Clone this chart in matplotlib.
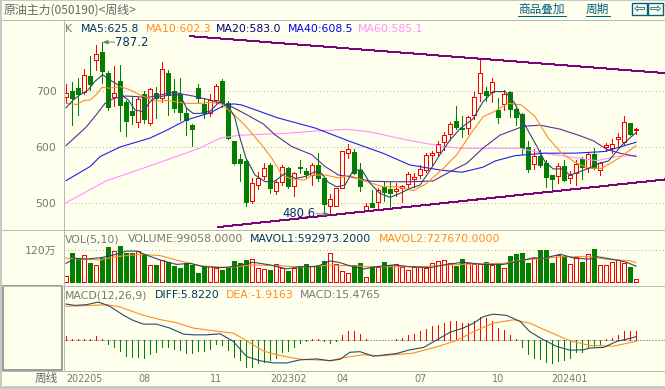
#!/usr/bin/env python3
import matplotlib
matplotlib.use("Agg")
import matplotlib.pyplot as plt
from matplotlib.lines import Line2D
from matplotlib.patches import Rectangle

W, H = 665, 389
BG = "#ffffee"
RED = "#ff0000"
GREEN = "#007f00"
NAVY = "#003366"
ORANGE = "#ff8c1e"
GRAY = "#777777"
LINK = "#006080"
PURPLE = "#800080"

# weekly candles
opens = [689, 700, 705, 699, 726, 755, 769, 732, 689, 717, 681, 664, 645, 694, 643.5, 696, 688, 732, 700, 694,
         661, 639, 706, 677, 661, 684, 718, 678, 610, 579, 575, 504, 533, 548, 568, 522, 538, 563, 531, 565,
         557, 550, 568, 544, 495, 495, 527.5, 590, 591, 559, 486, 499.5, 501, 528, 524.5, 521.5, 527, 533.4, 542, 550,
         559, 586, 591, 608.4, 623, 646.5, 634, 634.6, 657, 696, 700, 699, 666, 676, 699, 668, 659, 600, 569, 584,
         571, 550, 549, 566, 544, 553, 579, 562, 587, 559, 600.6, 597.6, 613.7, 609.5, 642, 631]
closes = [696, 687, 695, 729, 712, 765.5, 736, 672, 696, 675, 646.5, 657, 686, 650, 703, 688, 739, 693, 670, 662,
          648, 632, 687, 661, 684, 709, 679, 616.7, 571, 571, 502.5, 535, 544, 562, 527.5, 537, 565, 531, 553, 563,
          551, 568, 545, 498, 508, 526, 592, 596, 553, 531, 494, 493.6, 523, 520, 517, 524.5, 530, 551, 546, 560,
          586, 589, 606, 621, 640.5, 636, 631.6, 653, 689, 733, 693, 715.5, 654, 694, 668, 654, 598, 561, 584, 568,
          547, 543, 565.5, 541, 550, 569, 564, 587, 562, 571, 603, 605, 617, 644, 624, 632]
highs = [712, 715.5, 723, 740, 762, 782, 787.2, 735, 745, 746, 684, 689, 690, 700, 706, 707, 751, 737, 722, 724,
         672, 641, 712, 688, 695, 713, 722, 682, 611, 587, 577, 544, 555, 571, 571, 541, 568, 565, 556, 576,
         563, 571, 589, 546, 516, 527, 593, 605.5, 596, 571, 500, 524, 526, 538, 537, 535, 533, 556, 553, 568,
         590, 592, 611, 626, 645, 673, 655, 655, 698, 755.4, 706.6, 723, 687, 702, 700, 669, 660, 611, 596, 595,
         577, 550, 571, 577, 558, 577, 583, 589, 599, 574, 607, 614, 624.4, 655, 642, 634.5]
lows = [681, 639, 657, 695, 702, 738, 715, 666, 674, 629, 620, 641, 635, 642, 639, 651, 681, 658, 662, 648,
        621, 601, 678, 652, 655, 679, 672, 615, 570, 539, 495, 500, 525, 543, 518, 516, 533, 527, 513, 553,
        545, 533, 540, 483, 480.6, 495, 527, 580, 552, 522, 485, 493, 489, 504, 491, 513, 501, 528, 529, 545,
        556, 568, 584, 595, 612.5, 633, 617, 623, 650, 683, 683, 681, 642, 665.5, 654, 639, 587, 555, 561, 564,
        529, 519, 536, 540, 535, 532, 542, 556, 561, 550, 593, 590, 600, 605, 621, 624]

# moving averages in the price panel (bar number, value)
ma5_x = [0, 1.2, 2.3, 3.7, 4.8, 6.1, 7.3, 8.7, 9.6, 10.4, 11.5, 12.9, 14, 14.8, 15.7, 17.3, 19, 20.1, 21.2, 22.3,
         24, 25.7, 27.1, 28.1, 29, 30, 31.5, 33.2, 34.8, 36.5, 38.2, 39.8, 41.5, 42.6, 43.7, 45.1, 46.5, 47.9, 49.3,
         50.7, 52.3, 54, 55.7, 57.3, 59, 60.7, 62.3, 64, 65.7, 67.9, 69.5, 71.2, 73.2, 74.8, 76.5, 78.2, 79.8, 81.2,
         82.6, 84, 85.4, 87.1, 88.8, 90.4, 92.7, 95]
ma5_y = [670, 684, 693, 702, 717, 729, 720, 711, 690, 684, 666, 663, 681, 687, 690, 693, 693, 669, 660, 660,
         664, 682, 672, 654, 616, 580, 550, 538, 539, 553, 544, 547, 556, 553, 537, 529, 532, 559, 559,
         535, 517.4, 510, 517.4, 526, 532, 559, 586, 612.6, 633, 651, 681, 699, 699, 678, 639, 606.6, 574, 560.8,
         561, 550, 555, 562, 571, 575, 604, 625.8]
ma10_x = [0, 1.8, 3, 4, 5, 6, 7.3, 9, 10.7, 12.3, 14, 15, 16.8, 18.4, 20, 22.3, 24, 25.9, 28.1, 29.8, 32.6, 34.3,
          36, 37.6, 39.8, 41, 43.2, 45.4, 47.3, 50.1, 52.9, 55.1, 57.9, 60.1, 62.9, 65.1, 67.3, 69.5, 71.5, 73.7,
          75.9, 78.2, 80.4, 82.6, 84.8, 87.1, 89.3, 92, 95]
ma10_y = [678, 676, 683, 684, 693, 706.6, 705, 708, 702, 693, 686, 682, 683, 681, 678, 678, 680, 677, 657, 639, 604, 580,
          550, 543, 541, 550, 550, 545, 549, 538, 529, 529, 522, 535, 562, 586, 621, 654, 664, 678,
          675, 654, 615.5, 589, 573, 562, 562, 579, 602.3]
ma20_x = [0, 3.4, 5, 6.5, 8, 10, 11.8, 13.4, 15.7, 17.9, 19.6, 21.2, 24, 25.9, 27.6, 30.4, 32.9, 34.8, 37.6, 41,
          43.2, 45.4, 47.3, 50.7, 54, 57.3, 61.2, 64, 66.8, 69.5, 72.3, 76.2, 79, 82.3, 85.7, 87.9, 90.1, 92.3, 95]
ma20_y = [602.5, 636, 657, 678, 687, 691, 690, 688, 693, 698, 694, 691, 684, 678, 672, 656, 641, 622, 601, 586,
          565, 550, 547, 539, 538, 538, 539.4, 556, 571, 598, 621, 637, 639, 632, 620, 611, 596, 589, 583]
ma40_x = [0, 4, 5.7, 9, 14, 16.8, 20, 24, 26.5, 28, 29.3, 35.3, 41.5, 47.3, 52.8, 57.3, 62.3, 66, 69.5, 71.5,
          74.8, 79.8, 84.8, 89.8, 95]
ma40_y = [540, 565, 583, 600, 616, 630, 648, 661, 675, 677, 675, 652, 634, 610, 589, 568, 559, 555, 564, 575,
          584.5, 589, 589, 592, 608.5]
ma60_x = [0, 6.8, 12.3, 16.8, 22.3, 25.7, 29, 36.8, 42.3, 46.8, 50.7, 56.8, 62.3, 65.7, 70.7, 75.7, 79, 83.5, 88.5, 91.8, 95]
ma60_y = [500.5, 540, 560, 577, 598, 616, 621, 624.5, 629, 631.6, 627, 612.5, 602, 597.6, 597.6, 597.6, 590, 583, 575.6, 583, 585.1]

# two channel lines
upper_x = [20.67, 99.83]
upper_y = [798, 732]
lower_x = [25.3, 99.83]
lower_y = [457, 542]

# volume in units of 10000
volume = [22.5, 107.5, 89, 100, 71, 62.5, 90, 131, 115, 135, 110, 110, 115, 100, 62.5, 64, 82.5, 76, 60, 52.5,
          71, 64, 34, 60, 60, 51, 45, 55, 79, 70, 82.5, 85, 51, 49, 45, 66, 51, 41, 51, 60,
          67.5, 60, 62.5, 79, 107.5, 66, 41, 32.5, 64, 70, 17.5, 61, 57.5, 74, 64, 66, 57.5, 45, 56, 55,
          51, 70, 79, 82.5, 70, 61, 86, 70, 69, 69, 74, 64, 66, 51, 97.5, 105, 109, 72.5, 89, 120,
          120, 72.5, 101, 99, 66, 95, 76, 104, 124, 64, 64, 76, 82.5, 70, 57.5, 9.9]
mavol1_x = [0, 1.5, 3.4, 5.7, 7.9, 10.1, 11.8, 13.4, 15.7, 18.4, 20.7, 22.9, 25.7, 27.9, 31.2, 34, 36.8, 39, 41.8, 44,
            45.4, 47.3, 49.6, 51.8, 54.6, 57.3, 60.7, 63.5, 66.2, 69.6, 72.9, 75.7, 77.9, 79.6, 82.4, 84.7, 87.4, 88.5,
            91.8, 93.4, 95]
mavol1_y = [70, 89, 86, 91, 101, 116, 116, 101, 82.5, 66, 70, 57.5, 54, 57.5, 74, 64, 49, 57.5, 57.5, 79,
            74, 61, 49, 57.5, 64, 57.5, 54, 66, 74, 66, 66, 79, 91, 89, 104, 89, 86, 95,
            82.5, 74, 59.3]
mavol2_x = [0, 2.3, 5.7, 8.4, 12.3, 15.7, 18.4, 22.3, 26.7, 31.2, 35.7, 39, 44, 47.3, 50.7, 55.1, 59.6, 63.5, 67.9,
            72.9, 76.2, 79.6, 82.9, 87.4, 90.1, 93.9, 95]
mavol2_y = [89, 86, 82.5, 95, 104, 99, 82.5, 61, 54, 64, 61, 56, 63, 61, 57.5, 57.5, 57.5, 64, 67.5,
            70, 82.5, 89, 95, 95, 85, 80, 72.8]

# macd panel
diff_x = [0, 1.5, 3.4, 5.4, 7.3, 9.6, 11.2, 12.9, 15.1, 17.3, 19.6, 21.2, 23.4, 25.7, 27.9, 30.1, 32.3, 34.6, 36.8, 39,
          41.8, 44, 45.7, 47.3, 49, 51.2, 55.1, 57.3, 59.6, 61.8, 64, 66.2, 67.9, 69.6, 71.2, 73.4, 75.7, 77.3, 79.6,
          81.8, 84, 86.2, 87.3, 89.6, 91.8, 94, 95]
diff_y = [59.7, 57.5, 58.6, 63, 56, 41, 32.6, 26.5, 26.5, 20, 10, 8.8, 8.8, 10.5, -2.2, -27, -34, -37.6, -37.6, -32.6,
          -31, -34, -31.5, -20, -19, -26.5, -22, -16, -12, 0.5, 13, 20, 28, 39, 43, 41, 31, 14, 0.5,
          -10.5, -16.6, -16, -13, -12, -2, 3, 5.82]
dea_x = [0, 3.4, 6.8, 9, 12.9, 15.7, 18.4, 21.2, 24.6, 27.9, 30.1, 32.9, 35.7, 39, 44, 46.8, 49.6, 52.3, 57.8, 61.8,
         65.1, 67.9, 71.2, 74.6, 77.3, 80.7, 84, 87.3, 91.2, 95]
dea_y = [56, 57, 58.6, 55, 41, 34, 29, 20, 15.5, 11.6, -1, -18, -25.4, -31.5, -33.7, -28, -24, -26, -21.6, -11,
         -0.5, 14, 28, 33.7, 28, 13, -1, -8.8, -10, -1.92]
macd = [6.6, 2.2, 1.7, 2.2, 1.7, 7, 1.7, -6, -11.6, -17.7, -26, -27, -28, -29, -22.7, -20, -11, -12, -14.4, -16,
        -21.6, -21.6, -17.7, -17.7, -14.4, -6.6, -7.7, -16, -27, -32.6, -43.7, -43.7, -38, -36.5, -32.6, -29, -20, -17.7, -11, -4.4,
        -1.7, 1.7, 1.7, -1.7, -3.9, -1.7, 8.8, 15.5, 14.4, 10.5, 1.7, -0.5, 0.5, -0.5, -0.5, 1.7, 2.8, 8.8, 10, 14.4,
        18.8, 22.7, 25.4, 28.8, 32, 32, 28.8, 27.6, 32, 38.7, 36.5, 32, 20, 16.6, 8.8, 1.7, -10.5, -23, -29, -31,
        -36.5, -38, -33.7, -32.6, -30, -19, -19, -10.5, -9, -6, 1.7, 4.4, 8.8, 15.5, 15.5, 15.48]

date_ticks = [0, 13, 25, 37, 46, 59, 72, 84]
date_labels = ["202205", "08", "11", "202302", "04", "07", "10", "202401"]
price_ticks = [700, 600, 500]
vol_ticks = [120]
macd_ticks = [0]

SANS = ["DejaVu Sans", "Noto Sans CJK SC"]
CJK = ["Noto Sans CJK SC", "DejaVu Sans"]
FS = 7.8
THIN = 0.72

fig = plt.figure(figsize=(W / 100, H / 100), dpi=100, facecolor=BG)


def panel(top, bottom, ylim):
    ax = fig.add_axes([63.5 / W, 1 - bottom / H, (W - 63.5) / W, (bottom - top) / H])
    ax.set_facecolor("none")
    ax.set_xlim(-0.4167, 99.83)
    ax.set_ylim(*ylim)
    for s in ax.spines.values():
        s.set_visible(False)
    ax.set_xticks([])
    ax.tick_params(axis="y", length=0, pad=5, labelcolor=GRAY)
    return ax


def pxline(x0, y0, x1, y1, color, lw=THIN):
    fig.add_artist(Line2D([x0 / W, x1 / W], [1 - y0 / H, 1 - y1 / H], color=color, lw=lw,
                          transform=fig.transFigure, antialiased=False))


def pxtext(x, y, s, color, **kw):
    kw.setdefault("family", SANS)
    kw.setdefault("fontsize", FS)
    fig.text(x / W, 1 - y / H, s, color=color, va="center", **kw)


# frame
fig.add_artist(Rectangle((0, 0), 2 / W, 1, transform=fig.transFigure, fc="#c8c8c8", ec="none"))
fig.add_artist(Rectangle((0, 0), 1, 3 / H, transform=fig.transFigure, fc="#c8c8c8", ec="none"))
fig.add_artist(Rectangle((0, 1 - 1 / H), 1, 1 / H, transform=fig.transFigure, fc="#c8c8c8", ec="none"))
for yy in (19.5, 229.5, 285.5, 370.5):
    pxline(2, yy, W, yy, "#b8b8b8")
pxline(63.5, 19.5, 63.5, 370.5, "#b8b8b8")
fig.add_artist(Rectangle((3 / W, 1 - 369.5 / H), 59 / W, 83.5 / H, transform=fig.transFigure,
                         fc=BG, ec="#808080", lw=1.1))

# price panel
ax = panel(19.5, 229.5, (452.7, 827.7))
ax.set_yticks(price_ticks, [str(v) for v in price_ticks], family=SANS, fontsize=FS)
for v in price_ticks:
    ax.axhline(v, color="#b0b0a0", lw=THIN, ls=(0, (1, 2.5)), zorder=1)
for i in range(len(opens)):
    up = closes[i] >= opens[i]
    c = RED if up else GREEN
    ax.vlines(i, lows[i], highs[i], color=c, lw=THIN, antialiased=False, zorder=2)
    ax.add_patch(Rectangle((i - 0.33, min(opens[i], closes[i])), 0.67, max(abs(closes[i] - opens[i]), 0.8),
                           fc=BG if up else GREEN, ec=c, lw=THIN, antialiased=False, zorder=3))
ax.plot(ma60_x, ma60_y, color="#ff90ff", lw=0.8, zorder=4)
ax.plot(ma40_x, ma40_y, color="#2020f0", lw=0.8, zorder=4)
ax.plot(ma20_x, ma20_y, color="#5a3090", lw=0.8, zorder=4)
ax.plot(ma10_x, ma10_y, color=ORANGE, lw=0.8, zorder=4)
ax.plot(ma5_x, ma5_y, color="#2a4a68", lw=0.8, zorder=4)
ax.plot(upper_x, upper_y, color=PURPLE, lw=THIN, antialiased=False, zorder=4)
ax.plot(lower_x, lower_y, color=PURPLE, lw=THIN, antialiased=False, zorder=4)
ax.annotate("", xy=(6.1, 787.2), xytext=(8.1, 787.2), zorder=5,
            arrowprops=dict(arrowstyle="-|>,head_width=0.12,head_length=0.3", color=GRAY, lw=0.7, shrinkA=0, shrinkB=0))
ax.text(8.2, 787.2, "787.2", color=NAVY, family=SANS, fontsize=8.4, va="center", zorder=5)
ax.annotate("", xy=(43.9, 480.6), xytext=(41.7, 480.6), zorder=5,
            arrowprops=dict(arrowstyle="-|>,head_width=0.12,head_length=0.3", color=GRAY, lw=0.7, shrinkA=0, shrinkB=0))
ax.text(41.6, 480.6, "480.6", color=NAVY, family=SANS, fontsize=8.4, va="center", ha="right", zorder=5)

# volume panel
ax2 = panel(229.5, 285.5, (-13.1, 196.9))
ax2.set_yticks(vol_ticks, ["120万"], family=SANS, fontsize=FS)
ax2.axhline(vol_ticks[0], color="#b0b0a0", lw=THIN, ls=(0, (1, 2.5)), zorder=1)
for i, v in enumerate(volume):
    up = closes[i] >= opens[i]
    ax2.bar(i, v, width=0.67, fc=BG if up else GREEN, ec=RED if up else GREEN, lw=THIN, antialiased=False, zorder=2)
ax2.plot(mavol2_x, mavol2_y, color=ORANGE, lw=0.8, zorder=3)
ax2.plot(mavol1_x, mavol1_y, color="#2a4a68", lw=0.8, zorder=3)

# macd panel
ax3 = panel(286, 370, (-49.3, 89.5))
ax3.set_yticks(macd_ticks, ["0"], family=SANS, fontsize=FS)
ax3.axhline(0, color="#505050", lw=THIN, ls=(0, (1, 2)), zorder=1)
for i, v in enumerate(macd):
    ax3.vlines(i, 0, v, color=RED if v > 0 else GREEN, lw=THIN, antialiased=False, zorder=2)
ax3.plot(dea_x, dea_y, color=ORANGE, lw=0.8, zorder=3)
ax3.plot(diff_x, diff_y, color="#2a4a68", lw=0.8, zorder=3)
ax3.set_xticks(date_ticks, date_labels, family=SANS, fontsize=6.9, color=GRAY)
ax3.tick_params(axis="x", length=0, pad=3)
ax3.get_xticklabels()[0].set_ha("left")

# text rows
pxtext(4, 10, "原油主力(050190)<周线>", "#666666", family=CJK, fontsize=8.6)
pxtext(35, 378, "周线", "#666666", family=CJK, fontsize=8.4)
pxtext(518, 9.5, "商品叠加", LINK, family=CJK, fontsize=8.4)
pxtext(586, 9.5, "周期", LINK, family=CJK, fontsize=8.4)
pxline(518, 15.5, 566, 15.5, LINK)
pxline(586, 15.5, 610, 15.5, LINK)
for bx, sym in ((632, "⇦"), (648, "⇨")):
    fig.add_artist(Rectangle((bx / W, 1 - 15 / H), 15 / W, 12 / H, transform=fig.transFigure,
                             fc=BG, ec=LINK, lw=1.0))
    fig.text((bx + 7.5) / W, 1 - 9 / H, sym, color=LINK, family="DejaVu Sans", fontsize=10, ha="center", va="center")

pxtext(65, 29, "K", GRAY)
pxtext(81, 29, "MA5:625.8", NAVY)
pxtext(146, 29, "MA10:602.3", ORANGE)
pxtext(216, 29, "MA20:583.0", "#000080")
pxtext(288, 29, "MA40:608.5", "#0000ff")
pxtext(358, 29, "MA60:585.1", "#ff90ff")
pxtext(65, 239, "VOL(5,10)", GRAY)
pxtext(128, 239, "VOLUME:99058.0000", GRAY)
pxtext(250, 239, "MAVOL1:592973.2000", NAVY)
pxtext(379, 239, "MAVOL2:727670.0000", ORANGE)
pxtext(65, 295, "MACD(12,26,9)", GRAY)
pxtext(155, 295, "DIFF:5.8220", NAVY)
pxtext(226, 295, "DEA:-1.9163", ORANGE)
pxtext(300, 295, "MACD:15.4765", GRAY)

fig.savefig("out.png", dpi=100, facecolor=BG)
